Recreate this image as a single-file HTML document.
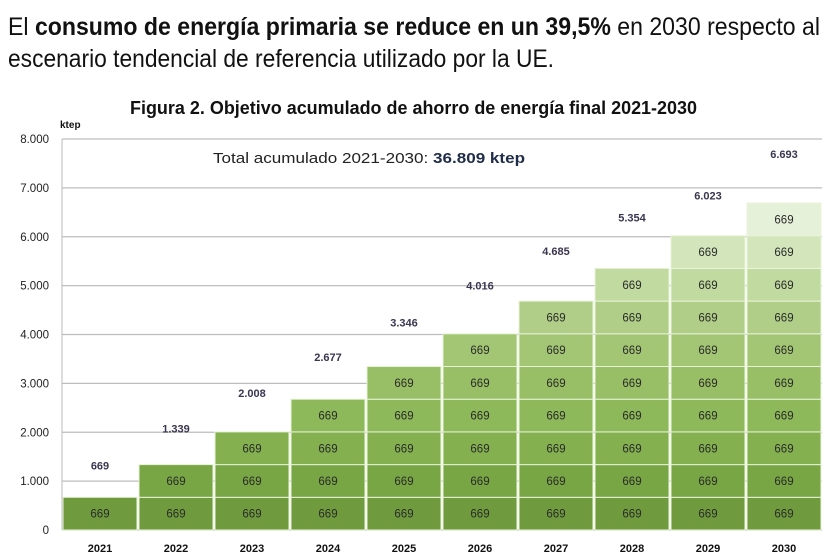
<!DOCTYPE html>
<html><head><meta charset="utf-8"><style>
html,body{margin:0;padding:0;background:#fff;}
svg{display:block;font-family:"Liberation Sans",Arial,sans-serif;}
</style></head><body>
<svg id="chart" width="838" height="560" viewBox="0 0 838 560">
<text x="8" y="35" font-size="25" fill="#111" textLength="812" lengthAdjust="spacingAndGlyphs">El <tspan font-weight="bold">consumo de energía primaria se reduce en un 39,5%</tspan> en 2030 respecto al</text>
<text x="8" y="67" font-size="25" fill="#111" textLength="546" lengthAdjust="spacingAndGlyphs">escenario tendencial de referencia utilizado por la UE.</text>
<text x="130" y="114" font-size="18.5" font-weight="bold" fill="#111" textLength="567" lengthAdjust="spacingAndGlyphs">Figura 2. Objetivo acumulado de ahorro de energía final 2021-2030</text>
<text x="60" y="128" font-size="10" font-weight="bold" fill="#111">ktep</text>
<g id="grid"></g>
<g id="bars"></g>
<g id="labels"></g>
<text x="213" y="163" font-size="15" fill="#222" textLength="312" lengthAdjust="spacingAndGlyphs">Total acumulado 2021-2030:  <tspan font-weight="bold" fill="#1f2d4a">36.809 ktep</tspan></text>
</svg>
<script>
const years = ["2021","2022","2023","2024","2025","2026","2027","2028","2029","2030"];
const layerValue = [669,669,669,669,669,669,669,669,669,669];
const totals = ["669","1.339","2.008","2.677","3.346","4.016","4.685","5.354","6.023","6.693"];
const totalValues = [669,1339,2008,2677,3346,4016,4685,5354,6023,6693];
const yTicks = [0,1000,2000,3000,4000,5000,6000,7000,8000];
const yTickLabels = ["0","1.000","2.000","3.000","4.000","5.000","6.000","7.000","8.000"];
const colors = ["#6f9a3e","#79a645","#84b04f","#8eb95a","#98bf65","#a3c675","#b0ce88","#c1da9f","#d3e6bb","#e6f1d9"];
const labelGap = [28,32,35,38,40,44,46,47,36,45];
const NS="http://www.w3.org/2000/svg";
const x0=62,x1=822,yB=530,yT=139,maxV=8000;
const bw=(x1-x0)/years.length;
const yS=v=>yB-(v/maxV)*(yB-yT);
const xS=i=>x0+i*bw;
function mk(t,a,p){const e=document.createElementNS(NS,t);for(const k in a)e.setAttribute(k,a[k]);p.appendChild(e);return e;}
const grid=document.getElementById('grid'),bars=document.getElementById('bars'),labels=document.getElementById('labels');
yTicks.forEach((v,i)=>{
  const l=mk('line',{x1:x0,x2:x1,y1:yS(v),y2:yS(v),stroke:'#bdbdbd','stroke-width':1.3},grid);
  
  
  const t=mk('text',{x:49,y:yS(v)+4,'font-size':11.5,'text-anchor':'end',fill:'#222'},grid);
  t.textContent=yTickLabels[i];
  
  
});
const ax=mk('line',{x1:x0,x2:x0,y1:yT,y2:yB,stroke:'#bbb'},grid);


years.forEach((yr,i)=>{
  let cum=0;
  const n=i+1;
  for(let k=0;k<n;k++){
    const v=layerValue[k];
    const r=mk('rect',{x:xS(i)+1,y:yS(cum+v),width:bw-2,height:yS(cum)-yS(cum+v),fill:colors[k],stroke:'#e8f3d8','stroke-width':1},bars);
    
    
    const t=mk('text',{x:xS(i)+bw/2,y:(yS(cum)+yS(cum+v))/2+4,'font-size':11.5,'text-anchor':'middle',fill:'#2a2a2a'},labels);
    t.textContent=String(v);
    
    
    cum+=v;
  }
  const tl=mk('text',{x:xS(i)+bw/2,y:yS(totalValues[i])-labelGap[i],'font-size':11,'font-weight':'bold','text-anchor':'middle',fill:'#3b3550'},labels);
  tl.textContent=totals[i];
  
  
  const xl=mk('text',{x:xS(i)+bw/2,y:552,'font-size':11,'font-weight':'bold','text-anchor':'middle',fill:'#111'},labels);
  xl.textContent=yr;
  
  
});
</script>
</body></html>
